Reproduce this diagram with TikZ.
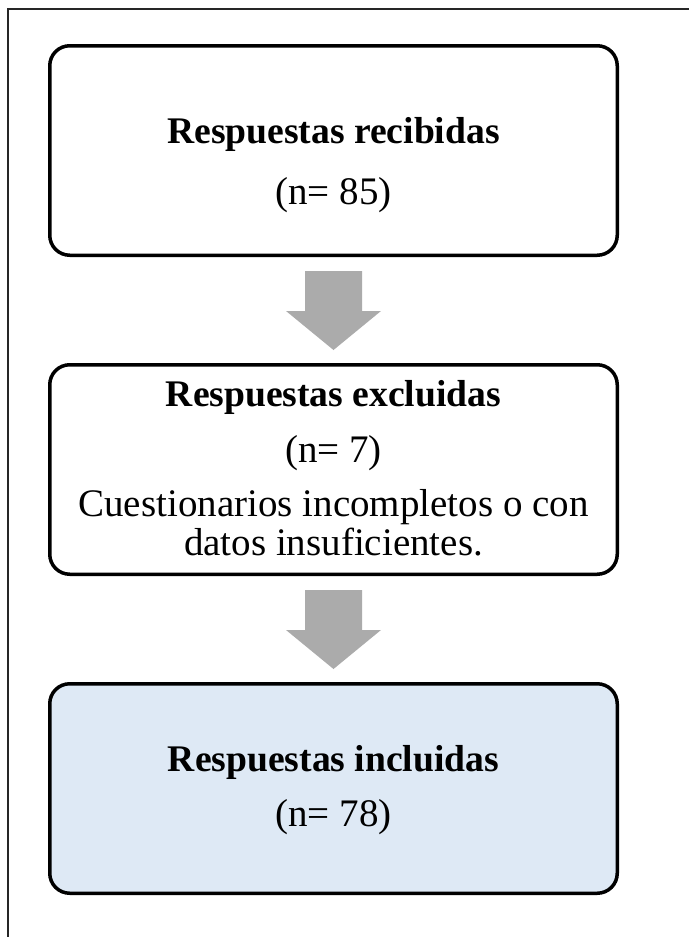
\documentclass[tikz,border=0pt]{standalone}
\usepackage{fontspec}
\setmainfont{Liberation Serif}
\usepackage{tikz}
\usetikzlibrary{positioning, calc}
\usepackage{xcolor}
\definecolor{azulclaro}{RGB}{222,233,245}
\definecolor{grisflecha}{RGB}{171,171,171}
\tikzset{caja/.style={draw, line width=3.5pt, rounded corners=20pt, minimum width=567.5pt, minimum height=209.5pt, inner sep=0pt}}
\tikzset{cajafinal/.style={caja, fill=azulclaro}}
\tikzset{titulo/.style={anchor=base, inner sep=0pt, font=\fontsize{37.6}{38}\selectfont\bfseries}}
\tikzset{texto/.style={anchor=base, inner sep=0pt, font=\fontsize{39}{39}\selectfont}}
\tikzset{flecha/.style={fill=grisflecha}}
\tikzset{marco/.style={draw=black!85, line width=2pt}}

\begin{document}
\begin{tikzpicture}[x=1pt, y=-1pt]
          \useasboundingbox (0,0) rectangle (689,937);

          % marco exterior
          \coordinate (marcoA) at (7.5,937);
          \coordinate (marcoB) at (7.5,9);
          \coordinate (marcoC) at (689,9);
          \draw[marco] (marcoA) -- (marcoB) -- (marcoC);

          \node[caja] (recibidas) at (333.5,150.5) {};
          \node[titulo] (titrec) at ($(recibidas)+(0,-7.5)$) {Respuestas recibidas};
          \node[texto] (nrec) at ($(recibidas)+(0,53.5)$) {(n= 85)};

          \node[caja, below=106pt of recibidas] (excluidas) {};
          \node[titulo] (titexc) at ($(excluidas)+(0,-63)$) {Respuestas excluidas};
          \node[texto] (nexc) at ($(excluidas)+(0,-7)$) {(n= 7)};
          \node[texto] (motexc1) at ($(excluidas)+(0,47)$) {Cuestionarios incompletos o con};
          \node[texto] (motexc2) at ($(excluidas)+(0,85.5)$) {datos insuficientes.};

          \node[cajafinal, below=106pt of excluidas] (incluidas) {};
          \node[titulo] (titinc) at ($(incluidas)+(0,-17)$) {Respuestas incluidas};
          \node[texto] (ninc) at ($(incluidas)+(0,38)$) {(n= 78)};

          % flechas entre cajas
          \foreach \a/\b in {recibidas/excluidas, excluidas/incluidas}
          \fill[flecha] ($(\a.south)+(-28.5,14)$) -- ($(\a.south)+(28.5,14)$)
            -- ($(\a.south)+(28.5,54)$) -- ($(\a.south)+(47.5,54)$)
            -- ($(\b.north)+(0,-13)$) -- ($(\a.south)+(-47.5,54)$)
            -- ($(\a.south)+(-28.5,54)$) -- cycle;
        \end{tikzpicture}
\end{document}
